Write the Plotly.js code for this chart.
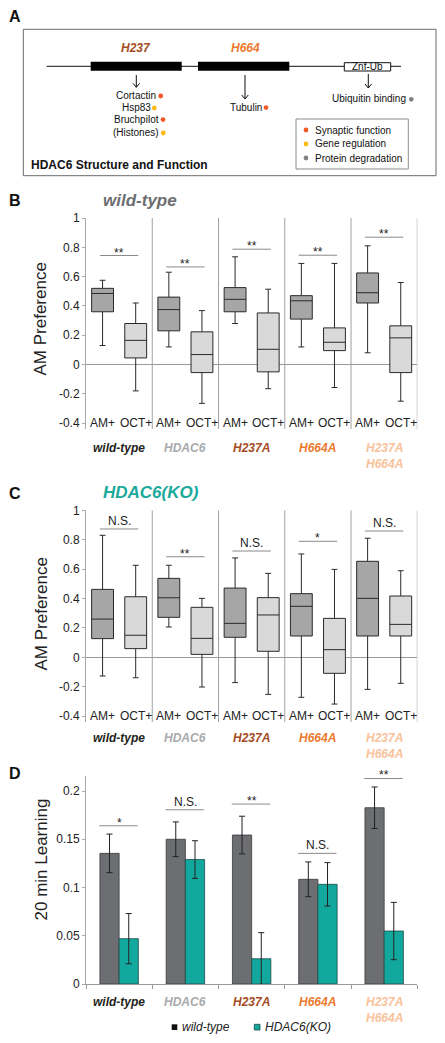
<!DOCTYPE html>
<html><head><meta charset="utf-8">
<script src="https://cdn.plot.ly/plotly-3.0.1.min.js"></script>
<style>html,body{margin:0;padding:0;background:#fff}#chart{width:445px;height:1043px}</style>
</head><body><div id="chart"></div>
<script>
// ---------- data ----------
const groups = ['wild-type','HDAC6','H237A','H664A','H237A<br>H664A'];
const groupColors = ['#231f20','#a7a9ac','#a54c24','#ec7a2e','#f8c29a'];
const boxLabels = ['AM+','OCT+'];

// Panel B: wild-type background, AM Preference
const bAMlow  = [0.13, 0.12, 0.28, 0.12, 0.08];
const bAMq1   = [0.36, 0.23, 0.36, 0.31, 0.42];
const bAMmed  = [0.485, 0.375, 0.445, 0.435, 0.49];
const bAMq3   = [0.52, 0.46, 0.525, 0.47, 0.625];
const bAMhigh = [0.575, 0.63, 0.735, 0.69, 0.81];
const bOCTlow  = [-0.18, -0.265, -0.165, -0.157, -0.25];
const bOCTq1   = [0.045, -0.055, -0.05, 0.095, -0.055];
const bOCTmed  = [0.165, 0.068, 0.104, 0.152, 0.182];
const bOCTq3   = [0.28, 0.223, 0.352, 0.25, 0.264];
const bOCThigh = [0.42, 0.368, 0.514, 0.69, 0.56];
const bSig  = ['**','**','**','**','**'];
const bSigY = [0.744, 0.666, 0.787, 0.746, 0.869];

// Panel C: HDAC6(KO) background, AM Preference
const cAMlow  = [-0.127, 0.206, -0.172, -0.272, -0.218];
const cAMq1   = [0.127, 0.272, 0.136, 0.145, 0.145];
const cAMmed  = [0.26, 0.405, 0.231, 0.347, 0.401];
const cAMq3   = [0.462, 0.537, 0.471, 0.433, 0.653];
const cAMhigh = [0.83, 0.626, 0.676, 0.703, 0.81];
const cOCTlow  = [-0.139, -0.202, -0.252, -0.318, -0.177];
const cOCTq1   = [0.059, 0.02, 0.041, -0.109, 0.145];
const cOCTmed  = [0.15, 0.129, 0.288, 0.052, 0.224];
const cOCTq3   = [0.412, 0.34, 0.406, 0.265, 0.417];
const cOCThigh = [0.626, 0.401, 0.571, 0.598, 0.589];
const cSig  = ['N.S.','**','N.S.','*','N.S.'];
const cSigY = [0.873, 0.684, 0.723, 0.789, 0.859];

// Panel D: 20 min Learning
const seriesNames = ['wild-type','HDAC6(KO)'];
const wtLearn = [0.1354, 0.150, 0.1544, 0.1085, 0.1827];
const wtErr   = [0.020, 0.018, 0.0195, 0.018, 0.0215];
const koLearn = [0.047, 0.129, 0.0262, 0.1033, 0.0549];
const koErr   = [0.026, 0.0195, 0.027, 0.0225, 0.0297];
const dSig  = ['*','N.S.','**','N.S.','**'];
const dSigY = [0.164, 0.1806, 0.1865, 0.1354, 0.213];

// Panel A texts
const domainNames = ['H237','H664'];
const h237Targets = ['Cortactin','Hsp83','Bruchpilot','(Histones)'];
const h237Funcs   = ['syn','gene','syn','gene'];
const h664Targets = ['Tubulin'];
const h664Funcs   = ['syn'];
const znfTargets  = ['Ubiquitin binding'];
const znfFuncs    = ['deg'];
const funcKeys   = ['syn','gene','deg'];
const funcLabels = ['Synaptic function','Gene regulation','Protein degradation'];

// ---------- styles / helpers ----------
const W = 445, H = 1043;
const X = p => p / W;
const Y = p => 1 - p / H;
const FONT = 'Arial, "Liberation Sans", sans-serif';
const funcColors = {syn:'#f15a29', gene:'#fdb913', deg:'#808285'};
const xDom = [X(86), X(417.3)];
const gx = groups.map((g,i)=>i);

const traces = [];
const shapes = [];
const ann = [];
function addAnn(o){
  ann.push(Object.assign({showarrow:false, xanchor:'center', yanchor:'middle'}, o));
}

function boxTrace(xa, ya, off, low, q1, med, q3, high, fill, name){
  return {type:'box', xaxis:xa, yaxis:ya, x: gx.map(i=>i+off),
    lowerfence:low, q1:q1, median:med, q3:q3, upperfence:high,
    fillcolor:fill, line:{color:'#2a2a2a', width:1}, width:0.33, whiskerwidth:0.27,
    boxpoints:false, hoverinfo:'skip', showlegend:false, name:name};
}
traces.push(boxTrace('x','y',0.25,bAMlow,bAMq1,bAMmed,bAMq3,bAMhigh,'#a6a6a6','AM+'));
traces.push(boxTrace('x','y',0.75,bOCTlow,bOCTq1,bOCTmed,bOCTq3,bOCThigh,'#d9d9d9','OCT+'));
traces.push(boxTrace('x2','y2',0.25,cAMlow,cAMq1,cAMmed,cAMq3,cAMhigh,'#a6a6a6','AM+'));
traces.push(boxTrace('x2','y2',0.75,cOCTlow,cOCTq1,cOCTmed,cOCTq3,cOCThigh,'#d9d9d9','OCT+'));

traces.push({type:'bar', xaxis:'x3', yaxis:'y3', x:gx.map(i=>i+0.5), y:wtLearn, name:seriesNames[0],
  marker:{color:'#6d6e71', line:{color:'#3a3a3a', width:0.8}},
  error_y:{type:'data', array:wtErr, visible:true, color:'#222', thickness:1, width:3}, hoverinfo:'skip'});
traces.push({type:'bar', xaxis:'x3', yaxis:'y3', x:gx.map(i=>i+0.5), y:koLearn, name:seriesNames[1],
  marker:{color:'#13a89e', line:{color:'#1d4d47', width:0.8}},
  error_y:{type:'data', array:koErr, visible:true, color:'#222', thickness:1, width:3}, hoverinfo:'skip'});

// box panels decorations
function boxPanelDeco(xa, ya, sig, sigY, labelTop){
  for(let k=1;k<=5;k++){
    shapes.push({type:'line', xref:xa, yref:ya, x0:k, x1:k, y0:-0.44, y1:1, line:{color:'#a0a0a0', width:1}});
  }
  gx.forEach(i=>{
    boxLabels.forEach((b,j)=>{
      addAnn({xref:xa, yref:ya, x:i+0.25+0.5*j, y:-0.4, text:b, font:{family:FONT, size:12, color:'#222'}});
    });
    shapes.push({type:'line', xref:xa, yref:ya, x0:i+0.21, x1:i+0.79, y0:sigY[i], y1:sigY[i], line:{color:'#8a8a8a', width:1}});
    addAnn({xref:xa, yref:ya, x:i+0.5, y:sigY[i], text:sig[i], yanchor:'bottom',
      yshift: sig[i].indexOf('*')>=0 ? -6 : -1, font:{family:FONT, size:12, color:'#222'}});
    addAnn({xref:xa, yref:'paper', x:i+0.5, y:Y(labelTop), text:'<b><i>'+groups[i]+'</i></b>',
      yanchor:'top', font:{family:FONT, size:12, color:groupColors[i]}});
  });
}
boxPanelDeco('x','y',bSig,bSigY,439.5);
boxPanelDeco('x2','y2',cSig,cSigY,729);

// D decorations
gx.forEach(i=>{
  shapes.push({type:'line', xref:'x3', yref:'y3', x0:i+0.2, x1:i+0.78, y0:dSigY[i], y1:dSigY[i], line:{color:'#8a8a8a', width:1}});
  addAnn({xref:'x3', yref:'y3', x:i+0.5, y:dSigY[i], text:dSig[i], yanchor:'bottom',
    yshift: dSig[i].indexOf('*')>=0 ? -6 : -1, font:{family:FONT, size:12, color:'#222'}});
  addAnn({xref:'x3', yref:'paper', x:i+0.5, y:Y(992.5), text:'<b><i>'+groups[i]+'</i></b>',
    yanchor:'top', font:{family:FONT, size:12, color:groupColors[i]}});
});
// D legend
shapes.push({type:'rect', xref:'paper', yref:'paper', x0:X(171.7), x1:X(177.3), y0:Y(1030), y1:Y(1024.3), fillcolor:'#111', line:{width:0}});
shapes.push({type:'rect', xref:'paper', yref:'paper', x0:X(254.3), x1:X(260), y0:Y(1030), y1:Y(1024.3), fillcolor:'#13a89e', line:{color:'#1d4d47', width:0.8}});
addAnn({xref:'paper', yref:'paper', x:X(179.5), y:Y(1027), xanchor:'left',
  text:'<i>'+seriesNames[0]+'</i>', font:{family:FONT, size:12, color:'#222'}});
addAnn({xref:'paper', yref:'paper', x:X(262.5), y:Y(1027), xanchor:'left',
  text:'<i>'+seriesNames[1]+'</i>', font:{family:FONT, size:12, color:'#222'}});

// Y titles
[['AM Preference',319],['AM Preference',614],['20 min Learning',860]].forEach(t=>{
  addAnn({xref:'paper', yref:'paper', x:X(40.5), y:Y(t[1]), text:t[0], textangle:-90,
    font:{family:FONT, size:17, color:'#222'}});
});
// panel letters
[['A',16],['B',200],['C',493],['D',773.5]].forEach(t=>{
  addAnn({xref:'paper', yref:'paper', x:X(14.5), y:Y(t[1]), text:'<b>'+t[0]+'</b>',
    font:{family:FONT, size:16, color:'#111'}});
});
// panel titles
addAnn({xref:'paper', yref:'paper', x:X(101), y:Y(200), xanchor:'left',
  text:'<b><i>wild-type</i></b>', font:{family:FONT, size:17, color:'#6d6e71'}});
addAnn({xref:'paper', yref:'paper', x:X(101), y:Y(492.7), xanchor:'left',
  text:'<b><i>HDAC6(KO)</i></b>', font:{family:FONT, size:17, color:'#1ba99c'}});

// ---------- Panel A diagram ----------
const P = (x,y)=> X(x).toFixed(5)+','+Y(y).toFixed(5);
shapes.push({type:'rect', xref:'paper', yref:'paper', x0:X(23.3), x1:X(436), y0:Y(175.7), y1:Y(29.3), line:{color:'#6a6a6a', width:1}});
shapes.push({type:'line', xref:'paper', yref:'paper', x0:X(46.7), x1:X(401), y0:Y(66.3), y1:Y(66.3), line:{color:'#111', width:1}});
shapes.push({type:'rect', xref:'paper', yref:'paper', x0:X(90.7), x1:X(181.7), y0:Y(70.7), y1:Y(61.7), fillcolor:'#000', line:{width:0}});
shapes.push({type:'rect', xref:'paper', yref:'paper', x0:X(198), x1:X(289.3), y0:Y(70.7), y1:Y(61.7), fillcolor:'#000', line:{width:0}});
shapes.push({type:'rect', xref:'paper', yref:'paper', x0:X(344.3), x1:X(390.7), y0:Y(71), y1:Y(62.7), fillcolor:'#fff', line:{color:'#111', width:1}});
addAnn({xref:'paper', yref:'paper', x:X(367.5), y:Y(66.9), text:'Znf-Ub', font:{family:FONT, size:10, color:'#111'}});
addAnn({xref:'paper', yref:'paper', x:X(136.2), y:Y(48.3), text:'<b><i>'+domainNames[0]+'</i></b>', font:{family:FONT, size:12, color:groupColors[2]}});
addAnn({xref:'paper', yref:'paper', x:X(245.8), y:Y(48.3), text:'<b><i>'+domainNames[1]+'</i></b>', font:{family:FONT, size:12, color:groupColors[3]}});
// arrows
[[136.3,75,87.3],[245,75,99],[368.3,74,88]].forEach(a=>{
  shapes.push({type:'line', xref:'paper', yref:'paper', x0:X(a[0]), x1:X(a[0]), y0:Y(a[1]), y1:Y(a[2]), line:{color:'#111', width:1}});
  shapes.push({type:'path', xref:'paper', yref:'paper', path:'M'+P(a[0]-3.3,a[2]-4)+'L'+P(a[0],a[2])+'L'+P(a[0]+3.3,a[2]-4), line:{color:'#111', width:1}});
});
function dot(cx, cy, key){
  shapes.push({type:'circle', xref:'paper', yref:'paper', x0:X(cx-2.4), x1:X(cx+2.4), y0:Y(cy+2.4), y1:Y(cy-2.4), fillcolor:funcColors[key], line:{width:0}});
}
const h237Y = [95.7,107.7,119.3,132.7];
const h237Dot = [160.7,154.3,163,163.3];
h237Targets.forEach((t,i)=>{
  addAnn({xref:'paper', yref:'paper', x:X(136.3), y:Y(h237Y[i]), text:t, font:{family:FONT, size:10, color:'#111'}});
  dot(h237Dot[i], h237Y[i]+0.3, h237Funcs[i]);
});
h664Targets.forEach((t,i)=>{
  addAnn({xref:'paper', yref:'paper', x:X(245.8), y:Y(107.3), text:t, font:{family:FONT, size:10, color:'#111'}});
  dot(266, 107.6, h664Funcs[i]);
});
znfTargets.forEach((t,i)=>{
  addAnn({xref:'paper', yref:'paper', x:X(368.8), y:Y(99), text:t, font:{family:FONT, size:10, color:'#111'}});
  dot(411.3, 99.3, znfFuncs[i]);
});
shapes.push({type:'rect', xref:'paper', yref:'paper', x0:X(296), x1:X(408.3), y0:Y(169), y1:Y(119), fillcolor:'#fff', line:{color:'#8a8a8a', width:1}});
const legY = [130,144,158];
funcKeys.forEach((k,i)=>{
  dot(306, legY[i], k);
  addAnn({xref:'paper', yref:'paper', x:X(312.5), y:Y(legY[i]), xanchor:'left', text:funcLabels[i], font:{family:FONT, size:10, color:'#111'}});
});
addAnn({xref:'paper', yref:'paper', x:X(29), y:Y(165), xanchor:'left', text:'<b>HDAC6 Structure and Function</b>', font:{family:FONT, size:12, color:'#111'}});

// ---------- axes ----------
function boxY(dom){
  return {domain:dom, range:[-0.44,1], tickvals:[-0.4,-0.2,0,0.2,0.4,0.6,0.8,1], ticktext:['-0.4','-0.2','0','0.2','0.4','0.6','0.8','1'],
    showgrid:false, zeroline:true, zerolinecolor:'#9a9a9a', zerolinewidth:1, showline:true, linecolor:'#a8a8a8', linewidth:1,
    ticks:'outside', ticklen:3, tickcolor:'#a8a8a8', tickfont:{family:FONT, size:12, color:'#222'}, fixedrange:true};
}
function plainX(anchor){
  return {domain:xDom, range:[0,5], anchor:anchor, showticklabels:false, showgrid:false, zeroline:false, showline:false, ticks:'', fixedrange:true};
}
const layout = {
  width:W, height:H, margin:{l:0,r:0,t:0,b:0}, paper_bgcolor:'#fff', plot_bgcolor:'rgba(0,0,0,0)',
  showlegend:false, barmode:'group', bargap:0.42, bargroupgap:0, boxmode:'overlay',
  font:{family:FONT},
  xaxis: plainX('y'),
  yaxis: Object.assign(boxY([Y(429), Y(218)]), {anchor:'x'}),
  xaxis2: plainX('y2'),
  yaxis2: Object.assign(boxY([Y(722), Y(510.3)]), {anchor:'x2'}),
  xaxis3: {domain:xDom, range:[0,5], anchor:'y3', showticklabels:false, showgrid:false, zeroline:false, showline:true, linecolor:'#9a9a9a',
    ticks:'outside', tickvals:[0,1,2,3,4,5], ticklen:4, tickcolor:'#9a9a9a', fixedrange:true},
  yaxis3: {domain:[Y(984), Y(775.6)], range:[0,0.216], anchor:'x3', tickvals:[0,0.05,0.1,0.15,0.2], ticktext:['0','0.05','0.1','0.15','0.2'],
    showgrid:false, zeroline:false, showline:true, linecolor:'#a8a8a8', ticks:'outside', ticklen:3, tickcolor:'#a8a8a8',
    tickfont:{family:FONT, size:12, color:'#222'}, fixedrange:true},
  shapes:shapes, annotations:ann
};
Plotly.newPlot('chart', traces, layout, {staticPlot:true, displayModeBar:false});
</script></body></html>
